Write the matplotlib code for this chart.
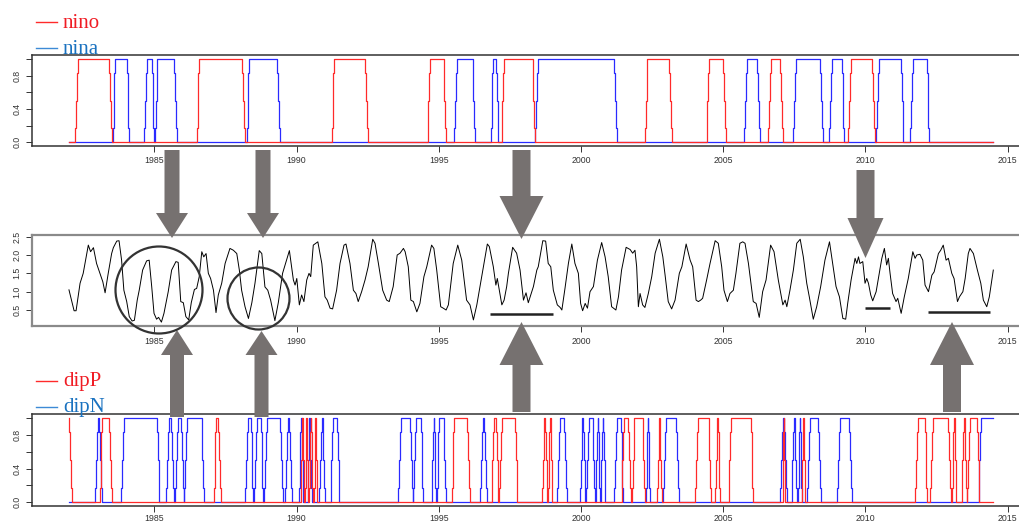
import numpy as np
import matplotlib.pyplot as plt
from matplotlib.patches import Polygon, Ellipse

plt.rcParams['font.family'] = ['Liberation Sans', 'DejaVu Sans']

T0, T1 = 1982.0, 2014.5          # time span of the series
RAMP = [0.17, 0.5, 0.83]         # intermediate levels seen on every edge

# episodes (start of rise, end of fall) in decimal years
nino = [(1982.21, 1983.50), (1986.49, 1988.19), (1991.24, 1992.50), (1994.61, 1995.26),
        (1997.21, 1998.39), (2002.25, 2003.19), (2004.42, 2005.10), (2006.59, 2007.10),
        (2009.40, 2010.34)]
nina = [(1983.54, 1984.12), (1984.65, 1985.00), (1985.02, 1985.79), (1988.25, 1989.42),
        (1995.54, 1996.28), (1996.83, 1997.10), (1998.39, 2001.26), (2005.75, 2006.28),
        (2007.47, 2008.50), (2008.74, 2009.26), (2010.38, 2011.34), (2011.57, 2012.25)]
dipP = [(1981.90, 1982.10), (1983.08, 1983.50), (1987.09, 1987.33), (1990.15, 1990.27),
        (1990.30, 1990.42), (1990.45, 1990.58), (1990.62, 1990.73), (1995.46, 1996.10),
        (1996.86, 1997.10), (1997.12, 1997.77), (1998.64, 1998.82), (1998.84, 1999.00),
        (2001.43, 2001.75), (2001.79, 2002.26), (2002.69, 2002.84), (2004.01, 2004.58),
        (2004.72, 2004.89), (2005.19, 2006.06), (2007.10, 2007.18), (2007.76, 2007.88),
        (2011.75, 2012.18), (2012.28, 2013.00), (2013.05, 2013.20), (2013.39, 2013.57),
        (2013.59, 2014.01)]
dipN = [(1982.92, 1983.15), (1983.83, 1985.18), (1985.41, 1985.68), (1985.73, 1986.04),
        (1986.06, 1986.75), (1988.19, 1988.48), (1988.52, 1988.83), (1988.86, 1989.52),
        (1989.60, 1989.83), (1990.10, 1990.24), (1990.39, 1990.53), (1990.80, 1991.00),
        (1991.20, 1991.51), (1993.58, 1994.08), (1994.11, 1994.46), (1994.75, 1994.91),
        (1994.93, 1995.26), (1996.45, 1996.69), (1999.17, 1999.50), (1999.97, 2000.16),
        (2000.18, 2000.50), (2000.52, 2000.67), (2000.70, 2000.86), (2001.17, 2001.49),
        (2002.29, 2002.43), (2002.90, 2003.44), (2007.00, 2007.24), (2007.41, 2007.59),
        (2007.65, 2007.76), (2007.96, 2008.43), (2009.02, 2009.52), (2013.98, 2014.60)]

# middle series, vertices
mid_t = [1982.00, 1982.18, 1982.25, 1982.39, 1982.50, 1982.68, 1982.76, 1982.86, 1982.97, 1983.09,
         1983.19, 1983.27, 1983.38, 1983.50, 1983.56, 1983.68, 1983.76, 1983.85, 1983.93, 1984.03,
         1984.12, 1984.22, 1984.30, 1984.40, 1984.47, 1984.59, 1984.73, 1984.82, 1984.91, 1984.99,
         1985.08, 1985.15, 1985.25, 1985.34, 1985.49, 1985.61, 1985.76, 1985.84, 1985.93, 1986.02,
         1986.11, 1986.21, 1986.30, 1986.41, 1986.49, 1986.58, 1986.67, 1986.74, 1986.82, 1986.90,
         1986.98, 1987.08, 1987.17, 1987.25, 1987.37, 1987.49, 1987.66, 1987.78, 1987.90, 1987.99,
         1988.07, 1988.19, 1988.31, 1988.43, 1988.54, 1988.69, 1988.78, 1988.89, 1988.99, 1989.09,
         1989.24, 1989.36, 1989.51, 1989.75, 1989.89, 1989.95, 1990.01, 1990.10, 1990.18, 1990.26,
         1990.36, 1990.44, 1990.50, 1990.59, 1990.75, 1990.89, 1991.00, 1991.08, 1991.18, 1991.27,
         1991.41, 1991.53, 1991.67, 1991.74, 1991.88, 1992.00, 1992.09, 1992.17, 1992.29, 1992.41,
         1992.52, 1992.68, 1992.76, 1992.88, 1993.03, 1993.17, 1993.26, 1993.40, 1993.54, 1993.64,
         1993.76, 1993.82, 1993.93, 1994.02, 1994.11, 1994.23, 1994.34, 1994.48, 1994.58, 1994.75,
         1994.83, 1994.93, 1995.07, 1995.16, 1995.26, 1995.34, 1995.51, 1995.67, 1995.81, 1995.98,
         1996.10, 1996.22, 1996.34, 1996.51, 1996.71, 1996.78, 1996.92, 1997.01, 1997.06, 1997.13,
         1997.22, 1997.30, 1997.39, 1997.45, 1997.60, 1997.74, 1997.86, 1997.98, 1998.07, 1998.15,
         1998.33, 1998.45, 1998.50, 1998.66, 1998.76, 1998.85, 1998.94, 1999.03, 1999.17, 1999.27,
         1999.33, 1999.44, 1999.56, 1999.68, 1999.79, 1999.91, 1999.99, 2000.06, 2000.15, 2000.23,
         2000.32, 2000.44, 2000.58, 2000.73, 2000.85, 2000.96, 2001.08, 2001.23, 2001.32, 2001.43,
         2001.59, 2001.73, 2001.82, 2001.90, 2001.96, 2002.02, 2002.08, 2002.17, 2002.25, 2002.37,
         2002.49, 2002.61, 2002.76, 2002.88, 2002.96, 2003.07, 2003.19, 2003.31, 2003.46, 2003.55,
         2003.70, 2003.84, 2003.93, 2004.05, 2004.13, 2004.21, 2004.28, 2004.42, 2004.54, 2004.72,
         2004.83, 2004.95, 2005.03, 2005.15, 2005.24, 2005.36, 2005.45, 2005.59, 2005.69, 2005.77,
         2005.89, 2006.06, 2006.16, 2006.27, 2006.39, 2006.51, 2006.67, 2006.79, 2006.94, 2007.10,
         2007.18, 2007.24, 2007.35, 2007.47, 2007.59, 2007.71, 2007.82, 2007.94, 2008.03, 2008.17,
         2008.29, 2008.43, 2008.58, 2008.74, 2008.85, 2008.97, 2009.09, 2009.21, 2009.31, 2009.38,
         2009.50, 2009.64, 2009.70, 2009.76, 2009.81, 2009.91, 2009.99, 2010.05, 2010.11, 2010.19,
         2010.26, 2010.38, 2010.49, 2010.58, 2010.67, 2010.75, 2010.81, 2010.87, 2010.96, 2011.08,
         2011.14, 2011.26, 2011.37, 2011.51, 2011.67, 2011.75, 2011.81, 2011.92, 2012.02, 2012.10,
         2012.22, 2012.34, 2012.42, 2012.57, 2012.65, 2012.74, 2012.84, 2012.92, 2013.04, 2013.12,
         2013.24, 2013.31, 2013.43, 2013.51, 2013.62, 2013.68, 2013.80, 2013.94, 2014.06, 2014.15,
         2014.27, 2014.36, 2014.50]
mid_v = [1.05, 0.48, 0.48, 1.23, 1.50, 2.27, 2.09, 2.20, 1.77, 1.50,
         1.27, 0.97, 1.50, 2.04, 2.20, 2.38, 2.39, 1.86, 1.04, 0.73,
         0.32, 0.20, 0.22, 0.77, 1.04, 1.59, 1.84, 1.86, 1.13, 0.41,
         0.25, 0.30, 0.17, 0.41, 1.00, 1.59, 1.82, 1.80, 0.73, 0.70,
         0.32, 0.23, 0.70, 1.06, 1.09, 1.41, 2.09, 1.95, 2.04, 1.50,
         1.36, 1.04, 0.43, 0.91, 1.23, 1.77, 2.18, 2.13, 2.04, 1.59,
         1.04, 0.59, 0.27, 0.70, 1.23, 2.12, 2.04, 1.13, 1.04, 0.77,
         0.21, 0.70, 1.50, 2.12, 1.32, 1.18, 1.36, 0.64, 0.91, 0.73,
         1.32, 1.50, 1.41, 2.27, 2.36, 1.77, 0.86, 0.77, 0.55, 0.53,
         1.04, 1.77, 2.27, 2.30, 1.77, 1.04, 0.95, 0.73, 1.00, 1.32,
         1.68, 2.43, 2.32, 1.77, 1.04, 0.77, 0.73, 1.14, 2.00, 2.05,
         2.18, 2.09, 1.68, 0.77, 0.73, 0.45, 0.68, 1.41, 1.68, 2.27,
         2.18, 1.59, 0.59, 0.55, 0.50, 0.64, 1.77, 2.27, 1.86, 0.77,
         0.64, 0.23, 0.64, 1.41, 2.30, 2.23, 1.68, 1.18, 1.36, 1.04,
         0.64, 0.77, 1.14, 1.50, 2.21, 2.05, 1.59, 0.77, 0.97, 0.70,
         1.14, 1.59, 1.68, 2.39, 2.38, 1.77, 1.68, 1.04, 0.64, 0.57,
         0.50, 1.09, 1.77, 2.30, 1.77, 1.50, 0.68, 0.48, 0.68, 0.55,
         1.00, 1.14, 1.86, 2.34, 1.95, 1.41, 0.59, 0.50, 0.86, 1.59,
         2.21, 2.15, 2.05, 2.13, 1.68, 0.59, 0.95, 0.64, 0.57, 0.95,
         1.41, 2.05, 2.43, 1.95, 1.45, 0.73, 0.53, 0.77, 1.50, 1.68,
         2.30, 1.86, 1.68, 0.77, 0.73, 0.77, 0.82, 1.32, 1.77, 2.39,
         2.32, 1.68, 1.04, 0.73, 0.95, 1.04, 1.50, 2.32, 2.36, 2.32,
         1.77, 0.73, 0.68, 0.30, 1.00, 1.32, 2.27, 2.09, 1.32, 0.64,
         0.77, 0.59, 1.04, 1.59, 2.32, 2.43, 1.95, 1.23, 0.86, 0.25,
         0.59, 1.14, 1.86, 2.36, 1.77, 1.14, 0.86, 0.27, 0.25, 0.68,
         1.32, 1.91, 1.77, 1.95, 1.77, 1.82, 1.23, 1.36, 1.23, 0.91,
         0.75, 1.00, 1.50, 1.91, 2.18, 1.73, 1.91, 1.50, 0.95, 0.73,
         0.82, 0.41, 0.86, 1.36, 2.09, 1.91, 2.00, 2.02, 1.86, 1.18,
         1.00, 1.45, 1.54, 2.04, 2.13, 2.27, 1.86, 1.91, 1.50, 1.36,
         0.73, 0.86, 1.00, 1.36, 2.04, 2.18, 2.04, 1.59, 1.23, 0.77,
         0.59, 0.86, 1.59]

# black bars under the middle curve: (from, to, level)
bars = [(1996.80, 1999.03, 0.39), (2009.98, 2010.86, 0.555), (2012.20, 2014.40, 0.44)]

RED, BLUE = '#ff2a2a', '#2a2aff'


def step_series(eps):
    t, v = [T0], [0.0]
    for a, b in eps:
        d = min(0.03, (b - a) / 7)
        up = [(a + i * d, lv) for i, lv in enumerate(RAMP + [1.0])]
        dn = [(b - (3 - i) * d, lv) for i, lv in enumerate(RAMP[::-1] + [0.0])]
        for tt, lv in up + dn:
            if tt < T0:
                v[0] = lv
            elif tt <= T1:
                t.append(tt); v.append(lv)
    t.append(T1); v.append(v[-1])
    return t, v


W, H = 1019, 522
fig = plt.figure(figsize=(W / 100, H / 100), dpi=100)


def add_panel(top, bottom, xpad=3.5):
    ax = fig.add_axes([32 / W, 1 - bottom / H, (1030 - 32) / W, (bottom - top) / H])
    ax.set_xlim(1980.7, 2015.79)
    ax.set_xticks([1985, 1990, 1995, 2000, 2005, 2010, 2015])
    ax.tick_params(labelsize=6.3, length=4.2, width=0.7, pad=3.5, colors='#333333')
    ax.tick_params(axis='x', pad=xpad)
    ax.tick_params(axis='y', labelrotation=90)
    for s in ax.spines.values():
        s.set_color('#333333'); s.set_linewidth(1.1)
    return ax


def binary_panel(ax, s1, s2):
    t, v = step_series(s2)
    ax.step(t, v, where='post', color=BLUE, lw=0.9)
    t, v = step_series(s1)
    ax.step(t, v, where='post', color=RED, lw=0.9)
    ax.set_ylim(-0.04, 1.045)
    ax.set_yticks([0, 0.2, 0.4, 0.6, 0.8, 1.0])
    ax.set_yticklabels(['0.0', '', '0.4', '', '0.8', ''])
    for lb in ax.get_yticklabels():
        lb.set_va('center')


ax1 = add_panel(55.3, 145.7)
binary_panel(ax1, nino, nina)

ax2 = add_panel(235, 326)
ax2.plot(mid_t, mid_v, color='black', lw=0.7)
for a, b, lv in bars:
    ax2.plot([a, b], [lv, lv], color='#222222', lw=1.8, solid_capstyle='butt')
ax2.set_ylim(0.064, 2.546)
ax2.set_yticks([0.5, 1.0, 1.5, 2.0, 2.5])
for lb in ax2.get_yticklabels():
    lb.set_va('center')
for s in ax2.spines.values():
    s.set_color('#8a8a8a'); s.set_linewidth(1.6)

ax3 = add_panel(414.3, 505.7, xpad=2.0)
binary_panel(ax3, dipP, dipN)

# legends
def legend_entry(y_line, y_base, label, col, tcol):
    fig.add_artist(plt.Line2D([36 / W, 57 / W], [1 - y_line / H] * 2, color=col, lw=1.0))
    fig.text(63 / W, 1 - y_base / H, label, color=tcol, fontsize=15,
             family=['Liberation Serif', 'DejaVu Serif'], va='baseline')

legend_entry(21.7, 28.3, 'nino', RED, '#f01c24')
legend_entry(48.3, 54.0, 'nina', '#3d8ad6', '#1a72c0')
legend_entry(380.7, 386.0, 'dipP', RED, '#f01c24')
legend_entry(406.7, 411.7, 'dipN', '#3d8ad6', '#1a72c0')

# arrows: (x, tail y, head base y, tip y, shaft width, head width) in pixels
arrows = [(172, 150, 213, 238, 15, 32), (263, 150, 213, 238, 15, 32),
          (521.5, 150, 196, 239, 18, 44), (865.5, 170, 218, 258, 18, 36),
          (177, 417, 355, 330, 14, 32), (261.5, 417, 355, 331, 14, 32),
          (521.5, 412, 365, 322, 18, 44), (952, 412, 365, 322, 18, 44)]
for x, ty, by, tip, sw, hw in arrows:
    pts = [(x - sw / 2, ty), (x + sw / 2, ty), (x + sw / 2, by), (x + hw / 2, by),
           (x, tip), (x - hw / 2, by), (x - sw / 2, by)]
    pts = [(px / 100, (H - py) / 100) for px, py in pts]
    fig.add_artist(Polygon(pts, closed=True, facecolor='#767170', edgecolor='none',
                           transform=fig.dpi_scale_trans, zorder=5))

for cx, cy, r in [(159, 290, 43.5), (258.5, 298.5, 31)]:
    fig.add_artist(Ellipse((cx / 100, (H - cy) / 100), 2 * r / 100, 2 * r / 100,
                           fill=False, edgecolor='#333333', lw=1.6,
                           transform=fig.dpi_scale_trans, zorder=6))

fig.savefig('out.png', dpi=100)
